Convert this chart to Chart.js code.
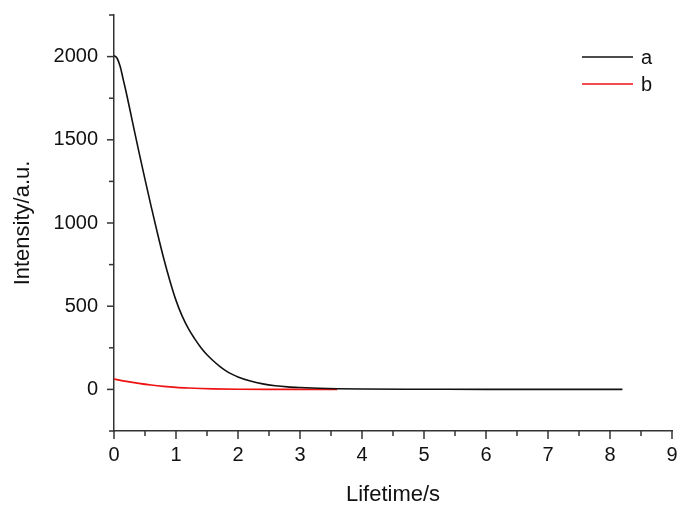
<!DOCTYPE html>
<html>
<head>
<meta charset="utf-8">
<script src="https://cdn.jsdelivr.net/npm/chart.js@4.4.0/dist/chart.umd.min.js"></script>
<style>
  html, body { margin: 0; padding: 0; background: #fff; }
  #wrap { width: 679px; height: 508px; }
</style>
</head>
<body>
<div id="wrap"><canvas id="myChart"></canvas></div>
<script>
// data
const seriesNames = ['a', 'b'];
const timeA = [0, 0.05, 0.1, 0.15, 0.2, 0.3, 0.4, 0.5, 0.6, 0.7, 0.8, 0.9, 1.0, 1.1, 1.2, 1.3, 1.4, 1.5, 1.6, 1.7, 1.8, 1.9, 2.0, 2.2, 2.4, 2.6, 2.8, 3.0, 3.3, 3.6, 4.0, 5.0, 6.0, 7.0, 8.2];
const intensityA = [2006, 1990, 1940, 1860, 1780, 1605, 1430, 1262, 1098, 940, 790, 655, 535, 440, 365, 305, 252, 208, 172, 140, 113, 92, 75, 50, 33, 22, 15, 11, 7, 4, 2, 1, 0, 0, 0];
const timeB = [0, 0.2, 0.4, 0.6, 0.8, 1.0, 1.2, 1.4, 1.6, 2.0, 2.5, 3.0, 3.6];
const intensityB = [62, 48, 36, 26, 18, 12, 8, 5, 3, 1, 0, 0, 0];
const xTicks = [0, 1, 2, 3, 4, 5, 6, 7, 8, 9];
const yTicks = [0, 500, 1000, 1500, 2000];

const FONT = "'Liberation Sans', Arial, sans-serif";
const toPoints = (xs, ys) => xs.map((x, i) => ({ x: x, y: ys[i] }));

// short ticks pointing out of the axes, longer on labelled values
const tickMarks = {
  id: 'tickMarks',
  afterDraw(chart) {
    const c = chart.ctx;
    const xs = chart.scales.x, ys = chart.scales.y;
    c.save();
    c.strokeStyle = '#333';
    c.lineWidth = 1.5;
    xs.ticks.forEach(t => {
      const px = xs.getPixelForValue(t.value);
      const len = xTicks.includes(t.value) ? 8 : 5;
      c.beginPath();
      c.moveTo(px, xs.top);
      c.lineTo(px, xs.top + len);
      c.stroke();
    });
    ys.ticks.forEach(t => {
      const py = ys.getPixelForValue(t.value);
      const len = yTicks.includes(t.value) ? 7 : 5;
      c.beginPath();
      c.moveTo(ys.right, py);
      c.lineTo(ys.right - len, py);
      c.stroke();
    });
    c.restore();
  }
};

// legend in the upper right corner of the plot
const cornerLegend = {
  id: 'cornerLegend',
  afterDraw(chart) {
    const c = chart.ctx;
    c.save();
    c.font = '20px ' + FONT;
    c.textBaseline = 'middle';
    c.fillStyle = '#111';
    chart.data.datasets.forEach((ds, i) => {
      const y = 57 + i * 27;
      c.strokeStyle = ds.borderColor;
      c.lineWidth = 1.5;
      c.beginPath();
      c.moveTo(582, y);
      c.lineTo(633, y);
      c.stroke();
      c.fillText(ds.label, 641, y + 1);
    });
    c.restore();
  }
};

const ctx = document.getElementById('myChart');
const data = {
  datasets: [
    {
      label: seriesNames[0],
      data: toPoints(timeA, intensityA),
      borderColor: '#111111',
      borderWidth: 1.6,
      pointRadius: 0,
      cubicInterpolationMode: 'monotone',
      fill: false,
    },
    {
      label: seriesNames[1],
      data: toPoints(timeB, intensityB),
      borderColor: '#ee1111',
      borderWidth: 1.6,
      pointRadius: 0,
      cubicInterpolationMode: 'monotone',
      fill: false,
    },
  ],
};

const config = {
  type: 'line',
  data: data,
  options: {
    responsive: true,
    maintainAspectRatio: false,
    animation: false,
    layout: { padding: { top: 15, right: 7, left: 0, bottom: 0 } },
    plugins: {
      legend: { display: false },
      tooltip: { enabled: false },
    },
    scales: {
      x: {
        type: 'linear',
        min: 0,
        max: 9,
        border: { display: true, color: '#333', width: 1.5 },
        grid: { display: true, drawOnChartArea: false, drawTicks: false },
        ticks: {
          stepSize: 0.5,
          autoSkip: false,
          maxRotation: 0,
          padding: 12,
          color: '#111',
          font: { family: FONT, size: 20 },
          callback: v => (xTicks.includes(v) ? String(v) : ''),
        },
        title: {
          display: true,
          text: 'Lifetime/s',
          color: '#111',
          font: { family: FONT, size: 22 },
          padding: { top: 0, bottom: 0 },
        },
        afterFit: s => {
          s.height = 77;
          s.paddingLeft = 0;
          s.paddingRight = 0;
        },
      },
      y: {
        type: 'linear',
        min: -250,
        max: 2250,
        border: { display: true, color: '#333', width: 1.5 },
        grid: { display: true, drawOnChartArea: false, drawTicks: false },
        ticks: {
          stepSize: 250,
          autoSkip: false,
          padding: 16,
          color: '#111',
          font: { family: FONT, size: 20 },
          callback: v => (yTicks.includes(v) ? String(v) : ''),
        },
        title: {
          display: true,
          text: 'Intensity/a.u.',
          color: '#111',
          font: { family: FONT, size: 22 },
          padding: { top: 10, bottom: 0 },
        },
        afterFit: s => {
          s.width = 114;
          s.paddingTop = 0;
          s.paddingBottom = 0;
        },
      },
    },
  },
  plugins: [tickMarks, cornerLegend],
};

const myChart = new Chart(ctx, config);
</script>
</body>
</html>
